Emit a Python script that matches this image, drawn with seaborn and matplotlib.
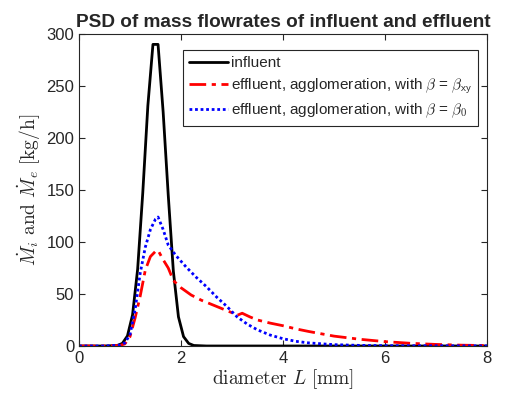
import matplotlib
matplotlib.use("Agg")
import matplotlib.pyplot as plt
import seaborn as sns
import numpy as np

# ---- data ----
L_inf = [0, 0.5, 0.75, 0.85, 0.95, 1.05, 1.15, 1.25, 1.35, 1.45, 1.55, 1.65, 1.75,
         1.85, 1.95, 2.05, 2.15, 2.25, 2.5, 8]
M_inf = [0, 0, 0.5, 2.5, 9.7, 30, 74, 147, 231, 290, 290, 225, 145,
         72, 28, 9, 2.5, 0.5, 0, 0]

L_xy = [0, 0.5, 0.8, 0.9, 1.0, 1.1, 1.2, 1.3, 1.4, 1.5, 1.55, 1.65, 1.75, 1.85, 2.0,
        2.2, 2.4, 2.6, 2.8, 3.0, 3.1, 3.2, 3.35, 3.5, 3.75, 4.0, 4.25, 4.5, 5.0,
        5.5, 6.0, 6.5, 7.0, 7.5, 8.0]
M_xy = [0, 0, 0.5, 2, 9, 27, 48, 73, 86, 91, 92, 83, 75, 63, 56,
        49, 44, 40, 36, 32, 29.5, 31.5, 28, 25, 22, 19.5, 16.5, 14, 9.5,
        6.5, 4.2, 2.6, 1.5, 0.8, 0.4]

L_0 = [0, 0.5, 0.8, 0.9, 1.0, 1.1, 1.2, 1.3, 1.4, 1.5, 1.55, 1.65, 1.75, 1.9, 2.1,
       2.3, 2.5, 2.7, 2.9, 3.1, 3.3, 3.5, 3.75, 4.0, 4.25, 4.5, 5.0, 5.5, 6.0, 8.0]
M_0 = [0, 0, 0.8, 3, 11, 35, 70, 95, 112, 122, 124, 112, 97, 87, 76,
       66, 57, 47, 38, 28, 21, 15.5, 10.5, 7, 4.5, 3, 1.3, 0.6, 0.3, 0.1]

labels = ["influent",
          r"effluent, agglomeration, with $\beta$ = $\beta_{\mathsf{xy}}$",
          r"effluent, agglomeration, with $\beta$ = $\beta_{\mathsf{0}}$"]
x_ticks = [0, 2, 4, 6, 8]
y_ticks = [0, 50, 100, 150, 200, 250, 300]

# ---- style ----
sns.set_style("ticks")
plt.rcParams["font.family"] = ["Liberation Sans", "DejaVu Sans"]
plt.rcParams["mathtext.fontset"] = "cm"

fig = plt.figure(figsize=(5.08, 3.96), dpi=100)
ax = fig.add_axes([79/508, 50/396, 408/508, 312/396])

sns.lineplot(x=L_inf, y=M_inf, ax=ax, color="black", lw=2.0, label=labels[0])
sns.lineplot(x=L_xy, y=M_xy, ax=ax, color="red", lw=2.0, label=labels[1],
             linestyle=(0, (6, 2, 1.5, 2)))
sns.lineplot(x=L_0, y=M_0, ax=ax, color="blue", lw=2.0, label=labels[2],
             linestyle=(0, (1, 1)))

ax.set_xlim(0, 8)
ax.set_ylim(0, 300)
ax.set_xticks(x_ticks)
ax.set_yticks(y_ticks)
ax.tick_params(direction="in", top=True, right=True, labelsize=12, length=4,
               colors="#262626", labelcolor="#262626")
for s in ax.spines.values():
    s.set_color("#262626")
    s.set_linewidth(0.8)

ax.set_xlabel(r"$\mathrm{diameter}\ L\ [\mathrm{mm}]$", fontsize=14, labelpad=1)
ax.set_ylabel(r"$\dot{M}_i\ \mathrm{and}\ \dot{M}_e\ [\mathrm{kg/h}]$", fontsize=14, labelpad=2)
ax.set_title("PSD of mass flowrates of influent and effluent", fontsize=13.7,
             fontweight="bold", pad=5)

leg = ax.legend(loc="upper right", bbox_to_anchor=(0.978, 0.949), borderaxespad=0,
                fontsize=11, frameon=True, fancybox=False, framealpha=1,
                edgecolor="#262626", handlelength=2.5, handletextpad=0.2,
                labelspacing=0.4, borderpad=0.4)
leg.get_frame().set_linewidth(0.8)

fig.savefig("out.png", dpi=100)
